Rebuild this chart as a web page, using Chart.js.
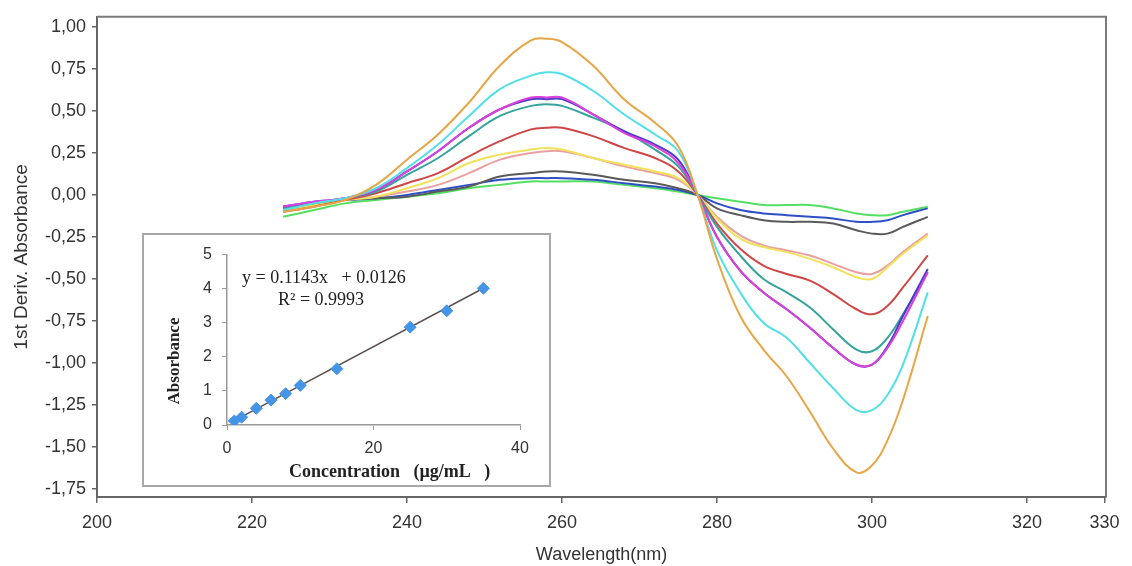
<!DOCTYPE html>
<html>
<head>
<meta charset="utf-8">
<script src="https://cdn.jsdelivr.net/npm/chart.js@4.4.0/dist/chart.umd.min.js"></script>
<style>
  html, body { margin: 0; padding: 0; background: #fff; }
  #wrap { position: relative; width: 1132px; height: 566px; }
  #inset {
    position: absolute; left: 142px; top: 233px; width: 409px; height: 254px;
    box-sizing: border-box; border: 2px solid #a9a9a9; background: #fff;
  }
  canvas { display: block; }
</style>
</head>
<body>
<div id="wrap">
  <canvas id="mainChart" width="1132" height="566"></canvas>
  <div id="inset"><canvas id="insetChart" width="405" height="250"></canvas></div>
</div>
<script>
// ===== main spectra (1st derivative) =====
const wavelength = [224, 228, 232, 236, 240, 244, 248, 252, 256, 258, 260, 264, 268, 272, 275, 277.5, 280, 283, 286, 289, 292, 295, 298, 300, 302, 304, 307.2];

const orange  = [-0.10, -0.07, -0.03, 0.06, 0.21, 0.36, 0.55, 0.77, 0.92, 0.93, 0.91, 0.77, 0.57, 0.43, 0.29, 0.00, -0.38, -0.72, -0.92, -1.08, -1.29, -1.51, -1.65, -1.61, -1.46, -1.22, -0.72];
const cyan    = [-0.09, -0.05, -0.02, 0.04, 0.16, 0.30, 0.47, 0.63, 0.71, 0.73, 0.72, 0.62, 0.48, 0.36, 0.26, 0.00, -0.33, -0.58, -0.76, -0.85, -1.00, -1.15, -1.28, -1.28, -1.19, -1.01, -0.58];
const magenta = [-0.07, -0.04, -0.02, 0.03, 0.14, 0.26, 0.40, 0.51, 0.58, 0.58, 0.58, 0.48, 0.37, 0.29, 0.19, 0.00, -0.25, -0.45, -0.58, -0.68, -0.79, -0.91, -1.01, -1.01, -0.91, -0.75, -0.46];
const violet  = [-0.07, -0.04, -0.02, 0.03, 0.14, 0.26, 0.40, 0.51, 0.57, 0.57, 0.57, 0.48, 0.38, 0.30, 0.21, 0.00, -0.25, -0.45, -0.58, -0.68, -0.79, -0.91, -1.01, -1.01, -0.90, -0.72, -0.44];
const teal    = [-0.08, -0.05, -0.02, 0.02, 0.12, 0.22, 0.35, 0.47, 0.53, 0.54, 0.53, 0.46, 0.38, 0.27, 0.17, 0.00, -0.19, -0.36, -0.50, -0.58, -0.67, -0.80, -0.92, -0.93, -0.85, -0.71, -0.46];
const red     = [-0.10, -0.07, -0.03, 0.01, 0.07, 0.13, 0.23, 0.32, 0.39, 0.40, 0.40, 0.35, 0.28, 0.22, 0.14, 0.00, -0.17, -0.32, -0.42, -0.47, -0.51, -0.59, -0.68, -0.71, -0.66, -0.55, -0.36];
const yellow  = [-0.09, -0.06, -0.03, -0.01, 0.04, 0.10, 0.19, 0.24, 0.27, 0.28, 0.27, 0.22, 0.18, 0.14, 0.10, 0.00, -0.14, -0.26, -0.31, -0.34, -0.38, -0.43, -0.49, -0.50, -0.43, -0.35, -0.24];
const pink    = [-0.08, -0.05, -0.03, -0.01, 0.02, 0.06, 0.13, 0.21, 0.25, 0.26, 0.26, 0.22, 0.17, 0.13, 0.09, 0.00, -0.13, -0.24, -0.30, -0.33, -0.36, -0.41, -0.46, -0.47, -0.42, -0.34, -0.23];
const gray    = [-0.08, -0.05, -0.03, -0.02, -0.01, 0.02, 0.05, 0.11, 0.13, 0.14, 0.14, 0.12, 0.09, 0.07, 0.04, 0.00, -0.08, -0.12, -0.15, -0.16, -0.16, -0.17, -0.21, -0.23, -0.23, -0.19, -0.13];
const blue    = [-0.07, -0.05, -0.03, -0.02, 0.00, 0.03, 0.06, 0.09, 0.10, 0.10, 0.10, 0.09, 0.07, 0.05, 0.03, 0.00, -0.05, -0.09, -0.11, -0.12, -0.13, -0.14, -0.16, -0.16, -0.15, -0.12, -0.08];
const green   = [-0.13, -0.09, -0.05, -0.03, -0.01, 0.01, 0.04, 0.06, 0.08, 0.08, 0.08, 0.08, 0.06, 0.04, 0.02, 0.00, -0.02, -0.04, -0.06, -0.06, -0.06, -0.08, -0.11, -0.12, -0.12, -0.10, -0.07];

const xTicks = [200, 220, 240, 260, 280, 300, 320, 330];
const yTicks = [-1.75, -1.5, -1.25, -1.0, -0.75, -0.5, -0.25, 0, 0.25, 0.5, 0.75, 1.0];

// ===== inset calibration =====
const conc = [1, 2, 4, 6, 8, 10, 15, 25, 30, 35];
const absorb = [0.12, 0.23, 0.49, 0.73, 0.92, 1.16, 1.65, 2.87, 3.35, 4.01];
const fitX = [1, 35];
const fitY = [0.127, 4.013];
const insetXTicks = [0, 20, 40];
const insetYTicks = [0, 1, 2, 3, 4, 5];
const eqText = "y = 0.1143x   + 0.0126";
const r2Text = "R\u00B2 = 0.9993";

const series = [
  { data: orange,  color: "#e6a646" },
  { data: cyan,    color: "#52dfe6" },
  { data: magenta, color: "#dc3fdc" },
  { data: violet,  color: "#4b3bc6" },
  { data: teal,    color: "#36a39e" },
  { data: red,     color: "#cf4646" },
  { data: yellow,  color: "#f1e25a" },
  { data: pink,    color: "#e9a0a0" },
  { data: gray,    color: "#5a5a5a" },
  { data: blue,    color: "#2f4fc6" },
  { data: green,   color: "#55df62" },
];

const sans = "'Liberation Sans', Arial, sans-serif";
const serif = "'Liberation Serif', 'Times New Roman', serif";

// top + right frame of the plot area
const framePlugin = {
  id: "frame",
  afterDraw(chart) {
    const { ctx, chartArea: a } = chart;
    ctx.save();
    ctx.strokeStyle = "#7a7a7a";
    ctx.lineWidth = 2;
    ctx.beginPath();
    ctx.moveTo(a.left, a.top);
    ctx.lineTo(a.right, a.top);
    ctx.lineTo(a.right, a.bottom);
    ctx.stroke();
    ctx.restore();
  },
};

new Chart(document.getElementById("mainChart"), {
  type: "line",
  data: {
    datasets: series.map((s) => ({
      data: wavelength.map((w, i) => ({ x: w, y: s.data[i] })),
      borderColor: s.color,
      borderWidth: 2,
      pointRadius: 0,
      fill: false,
      tension: 0.4,
    })),
  },
  options: {
    responsive: false,
    animation: false,
    layout: { padding: { left: 0, right: 26, top: 15, bottom: 0 } },
    plugins: { legend: { display: false }, tooltip: { enabled: false } },
    scales: {
      x: {
        type: "linear",
        min: 200,
        max: 330.2,
        afterFit: (s) => { s.height = 69; },
        afterBuildTicks: (s) => { s.ticks = xTicks.map((v) => ({ value: v })); },
        border: { color: "#666", width: 2 },
        grid: { drawOnChartArea: false, tickLength: 6, tickColor: "#666", lineWidth: 1.5 },
        ticks: {
          autoSkip: false, maxRotation: 0, padding: 9,
          color: "#333", font: { family: sans, size: 18 },
          callback: (v) => String(v),
        },
        title: {
          display: true, text: "Wavelength(nm)", color: "#333",
          font: { family: sans, size: 18 }, padding: { top: 0, bottom: 0 },
        },
      },
      y: {
        type: "linear",
        min: -1.797,
        max: 1.06,
        afterFit: (s) => { s.width = 97; },
        afterBuildTicks: (s) => { s.ticks = yTicks.map((v) => ({ value: v })); },
        border: { color: "#666", width: 2 },
        grid: { drawOnChartArea: false, tickLength: 5, tickColor: "#666", lineWidth: 1.5 },
        ticks: {
          autoSkip: false, padding: 6,
          color: "#333", font: { family: sans, size: 18 },
          callback: (v) => v.toFixed(2).replace(".", ","),
        },
        title: {
          display: true, text: "1st Deriv. Absorbance", color: "#333",
          font: { family: sans, size: 19 }, padding: { top: 10, bottom: 0 },
        },
      },
    },
  },
  plugins: [framePlugin],
});

// ===== inset =====
const insetText = {
  id: "insetText",
  afterDraw(chart) {
    const ctx = chart.ctx;
    ctx.save();
    ctx.fillStyle = "#222";
    ctx.textBaseline = "middle";
    ctx.textAlign = "left";
    ctx.font = "18px " + serif;
    ctx.fillText(eqText, 98, 43);
    ctx.fillText(r2Text, 134, 65);
    ctx.font = "bold 18px " + serif;
    ctx.fillText("Concentration   (\u00B5g/mL   )", 145, 237);
    ctx.translate(31, 126);
    ctx.rotate(-Math.PI / 2);
    ctx.textAlign = "center";
    ctx.font = "bold 17px " + serif;
    ctx.fillText("Absorbance", 0, 0);
    ctx.restore();
  },
};

new Chart(document.getElementById("insetChart"), {
  type: "scatter",
  data: {
    datasets: [
      {
        data: conc.map((c, i) => ({ x: c, y: absorb[i] })),
        pointStyle: "rectRot",
        pointRadius: 6,
        backgroundColor: "#4595e6",
        borderColor: "#4595e6",
        borderWidth: 1,
      },
      {
        data: fitX.map((c, i) => ({ x: c, y: fitY[i] })),
        showLine: true,
        borderColor: "#5b5050",
        borderWidth: 1.5,
        pointRadius: 0,
      },
    ],
  },
  options: {
    responsive: false,
    animation: false,
    layout: { padding: { left: 0, right: 29, top: 10, bottom: 0 } },
    plugins: { legend: { display: false }, tooltip: { enabled: false } },
    scales: {
      x: {
        min: 0, max: 40,
        afterFit: (s) => { s.height = 60; },
        afterBuildTicks: (s) => { s.ticks = insetXTicks.map((v) => ({ value: v })); },
        border: { color: "#9a9a9a", width: 1.5 },
        grid: { drawOnChartArea: false, tickLength: 5, tickColor: "#9a9a9a" },
        ticks: { autoSkip: false, maxRotation: 0, padding: 9, color: "#333", font: { family: sans, size: 16 } },
      },
      y: {
        min: 0, max: 5,
        afterFit: (s) => { s.width = 83; },
        afterBuildTicks: (s) => { s.ticks = insetYTicks.map((v) => ({ value: v })); },
        border: { color: "#9a9a9a", width: 1.5 },
        grid: { drawOnChartArea: false, tickLength: 5, tickColor: "#9a9a9a" },
        ticks: { autoSkip: false, padding: 10, color: "#333", font: { family: sans, size: 16 } },
      },
    },
  },
  plugins: [insetText],
});
</script>
</body>
</html>
